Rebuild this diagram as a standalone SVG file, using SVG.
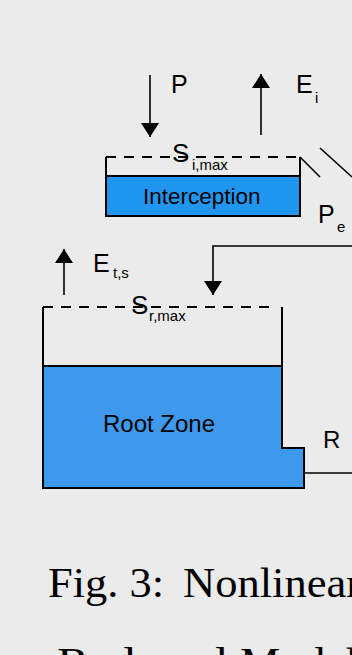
<svg xmlns="http://www.w3.org/2000/svg" width="352" height="655" viewBox="0 0 352 655">
  <style>
    .lbl { font-family: "Liberation Sans", Arial, sans-serif; fill: #000; }
    .sub { font-family: "Liberation Sans", Arial, sans-serif; fill: #000; font-size: 15px; }
    .cap { font-family: "Liberation Serif", "Times New Roman", serif; fill: #000; font-size: 42px; }
    .wall { fill: none; stroke: #000; stroke-width: 2; }
    .dash { fill: none; stroke: #000; stroke-width: 2; stroke-dasharray: 10 8; }
    .flow { fill: none; stroke: #000; stroke-width: 1.6; }
  </style>
  <defs>
    <marker id="head" viewBox="0 0 14 18" markerWidth="14" markerHeight="18" refX="14" refY="9" orient="auto" markerUnits="userSpaceOnUse">
      <path d="M0,0 L14,9 L0,18 Z" fill="#000"/>
    </marker>
  </defs>

  <rect x="0" y="0" width="352" height="655" fill="#ebebeb"/>

  <!-- interception store -->
  <g id="interception">
    <rect x="106" y="176" width="194" height="40" fill="#2196f0" stroke="#000" stroke-width="2"/>
    <path class="wall" d="M106,176 V157 M300,176 V157"/>
    <path class="dash" d="M106,157 H300"/>
    <text class="lbl" x="143" y="204" font-size="22.5">Interception</text>
    <text class="lbl" x="172" y="162" font-size="26">S</text>
    <text class="sub" x="192" y="170">i,max</text>
  </g>

  <!-- root zone store -->
  <g id="rootzone">
    <path d="M43,366 H282 V448 H304 V488 H43 Z" fill="#3e98ec"/>
    <path class="wall" d="M43,307 V488 H304 V448 H282 V307"/>
    <path class="wall" d="M43,366 H282"/>
    <path class="dash" d="M43,307 H274"/>
    <text class="lbl" x="103" y="432" font-size="24">Root Zone</text>
    <text class="lbl" x="131" y="314" font-size="26">S</text>
    <text class="sub" x="149" y="321">r,max</text>
  </g>

  <!-- fluxes -->
  <g id="connectors">
    <line class="flow" x1="150" y1="75" x2="150" y2="137" marker-end="url(#head)"/>
    <line class="flow" x1="261" y1="135" x2="261" y2="74" marker-end="url(#head)"/>
    <line class="flow" x1="64" y1="295" x2="64" y2="249" marker-end="url(#head)"/>
    <path class="flow" d="M352,246 H213 V295" marker-end="url(#head)"/>
    <line class="flow" x1="300" y1="157" x2="320" y2="177"/>
    <line class="flow" x1="320" y1="148" x2="352" y2="177"/>
    <line class="flow" x1="304" y1="473" x2="352" y2="473"/>
  </g>

  <!-- flux labels -->
  <g id="labels">
    <text class="lbl" x="171" y="93" font-size="25">P</text>
    <text class="lbl" x="296" y="93" font-size="25">E</text>
    <text class="sub" x="315" y="103">i</text>
    <text class="lbl" x="93" y="272" font-size="25">E</text>
    <text class="sub" x="113" y="278">t,s</text>
    <text class="lbl" x="318" y="223" font-size="25">P</text>
    <text class="sub" x="337" y="232">e</text>
    <text class="lbl" x="323" y="448" font-size="24">R</text>
  </g>

  <!-- caption -->
  <g id="caption">
    <text class="cap" x="48" y="597" textLength="116" lengthAdjust="spacingAndGlyphs">Fig. 3:</text>
    <text class="cap" x="183" y="597" textLength="178" lengthAdjust="spacingAndGlyphs">Nonlinear</text>
    <text class="cap" x="57" y="677" textLength="170" lengthAdjust="spacingAndGlyphs">Reduced</text>
    <text class="cap" x="240" y="677" textLength="118" lengthAdjust="spacingAndGlyphs">Model</text>
  </g>
</svg>
